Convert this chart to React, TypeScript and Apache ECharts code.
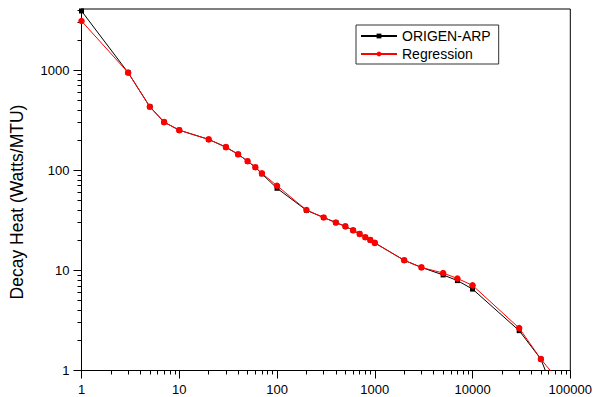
import React, { useEffect, useRef } from "react";
import * as echarts from "echarts";

// Cooling time (x) values
const times = [1, 3, 5, 7, 10, 20, 30, 40, 50, 60, 70, 100, 200, 300, 400, 500, 600, 700, 800, 900, 1000, 2000, 3000, 5000, 7000, 10000, 30000, 50000, 100000];
// ORIGEN-ARP decay heat (Watts/MTU)
const origenArp = [3890, 942, 430, 302, 251, 203, 170, 144, 123, 107, 92, 66, 39.8, 33.7, 30, 27.5, 25.1, 23.1, 21.4, 20.1, 18.8, 12.6, 10.7, 9.0, 7.9, 6.5, 2.5, 1.3, 0.23];
// Regression decay heat (Watts/MTU)
const regression = [3090, 942, 430, 302, 251, 203, 170, 144, 123, 107, 93, 70, 40, 33.7, 30, 27.5, 25.1, 23.1, 21.4, 20.1, 18.8, 12.6, 10.7, 9.4, 8.3, 7.08, 2.65, 1.3, 0.57];

// Tick values
const xMajorTicks = [1, 10, 100, 1000, 10000, 100000];
const yMajorTicks = [1, 10, 100, 1000];
const minorMultipliers = [2, 3, 4, 5, 6, 7, 8, 9];

const X_MIN = 1;
const X_MAX = 100000;
const Y_MIN = 1;
const Y_MAX = 4070;

const FONT = "'Liberation Sans', Arial, sans-serif";

export default function App() {
  const ref = useRef<HTMLDivElement>(null);

  useEffect(() => {
    if (!ref.current) return;
    const chart = echarts.init(ref.current, undefined, { renderer: "svg" });

    const xMinor: number[] = [];
    xMajorTicks.forEach((d) => minorMultipliers.forEach((m) => { if (d * m < X_MAX) xMinor.push(d * m); }));
    const yMinor: number[] = [];
    yMajorTicks.forEach((d) => minorMultipliers.forEach((m) => { if (d * m <= Y_MAX) yMinor.push(d * m); }));

    const isPow10 = (v: number) => {
      const l = Math.log10(v);
      return Math.abs(l - Math.round(l)) < 1e-6;
    };

    const labelStyle = {
      margin: 12,
      fontFamily: FONT,
      fontSize: 13,
      color: "#000",
      formatter: (v: number) => (isPow10(v) ? String(Math.round(v)) : ""),
    };

    chart.setOption({
      animation: false,
      backgroundColor: "#fff",
      grid: {
        left: 81.5,
        right: 23.5,
        top: 9,
        bottom: 26.5,
        show: true,
        borderColor: "#000",
        borderWidth: 1,
        backgroundColor: "transparent",
      },
      legend: {
        data: ["ORIGEN-ARP", "Regression"],
        orient: "vertical",
        left: 356,
        top: 25,
        padding: [3, 8, 2, 4],
        itemWidth: 36,
        itemHeight: 6,
        itemGap: 2,
        itemTextGap: 4,
        borderColor: "#333",
        borderWidth: 1,
        textStyle: { fontFamily: FONT, fontSize: 14, color: "#000", lineHeight: 16 },
      },
      xAxis: [
        {
          type: "log",
          min: X_MIN,
          max: X_MAX,
          position: "bottom",
          axisLine: { show: true, lineStyle: { color: "#000", width: 1 } },
          axisTick: { show: true, length: 8, customValues: xMajorTicks, lineStyle: { color: "#000", width: 1 } },
          splitLine: { show: false },
          axisLabel: { ...labelStyle, customValues: xMajorTicks, showMinLabel: true, showMaxLabel: true },
        },
        {
          type: "log",
          min: X_MIN,
          max: X_MAX,
          position: "bottom",
          axisLine: { show: false },
          axisTick: { show: true, length: 4, customValues: xMinor, lineStyle: { color: "#000", width: 1 } },
          splitLine: { show: false },
          axisLabel: { show: false },
        },
      ],
      yAxis: [
        {
          type: "log",
          min: Y_MIN,
          max: Y_MAX,
          position: "left",
          axisLine: { show: true, lineStyle: { color: "#000", width: 1 } },
          axisTick: { show: true, length: 8, customValues: yMajorTicks, lineStyle: { color: "#000", width: 1 } },
          splitLine: { show: false },
          axisLabel: { ...labelStyle, customValues: yMajorTicks },
        },
        {
          type: "log",
          min: Y_MIN,
          max: Y_MAX,
          position: "left",
          axisLine: { show: false },
          axisTick: { show: true, length: 4, customValues: yMinor, lineStyle: { color: "#000", width: 1 } },
          splitLine: { show: false },
          axisLabel: { show: false },
        },
      ],
      graphic: [
        {
          type: "text",
          x: 17,
          y: 202,
          rotation: Math.PI / 2,
          style: {
            text: "Decay Heat (Watts/MTU)",
            fontFamily: FONT,
            fontSize: 17.5,
            fill: "#000",
            align: "center",
            verticalAlign: "middle",
          },
        },
      ],
      series: [
        {
          name: "ORIGEN-ARP",
          type: "line",
          xAxisIndex: 0,
          yAxisIndex: 0,
          data: times.map((t, i) => [t, origenArp[i]]),
          symbol: "rect",
          symbolSize: 5,
          lineStyle: { color: "#000", width: 1 },
          itemStyle: { color: "#000" },
          clip: true,
          z: 2,
        },
        {
          name: "Regression",
          type: "line",
          xAxisIndex: 0,
          yAxisIndex: 0,
          data: times.map((t, i) => [t, regression[i]]),
          symbol: "circle",
          symbolSize: 6.5,
          lineStyle: { color: "#ff0000", width: 1 },
          itemStyle: { color: "#ff0000" },
          clip: true,
          z: 3,
        },
      ],
    });

    return () => chart.dispose();
  }, []);

  return (
    <div
      ref={ref}
      style={{ position: "absolute", left: 0, top: 0, width: 595, height: 397 }}
    />
  );
}
